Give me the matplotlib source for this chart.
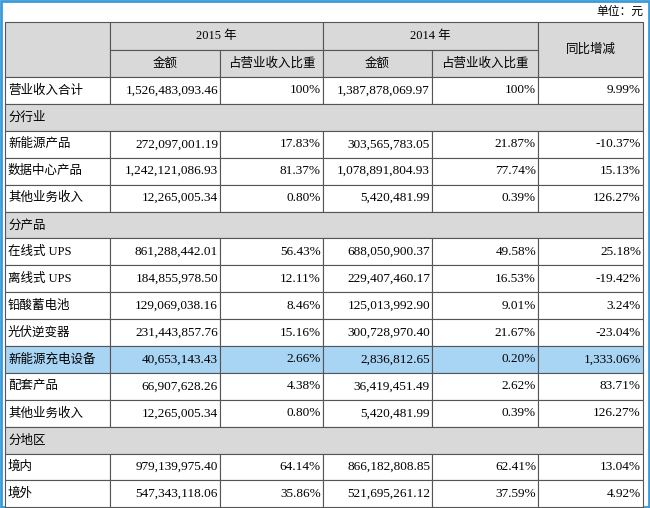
import matplotlib.pyplot as plt
from matplotlib.patches import Rectangle

# table content
row_names = ['营业收入合计', '分行业', '新能源产品', '数据中心产品', '其他业务收入',
             '分产品', '在线式 UPS', '离线式 UPS', '铅酸蓄电池', '光伏逆变器',
             '新能源充电设备', '配套产品', '其他业务收入', '分地区', '境内', '境外']
amount_2015 = ['1,526,483,093.46', '', '272,097,001.19', '1,242,121,086.93', '12,265,005.34',
               '', '861,288,442.01', '184,855,978.50', '129,069,038.16', '231,443,857.76',
               '40,653,143.43', '66,907,628.26', '12,265,005.34', '', '979,139,975.40', '547,343,118.06']
share_2015 = ['100%', '', '17.83%', '81.37%', '0.80%', '', '56.43%', '12.11%', '8.46%', '15.16%',
              '2.66%', '4.38%', '0.80%', '', '64.14%', '35.86%']
amount_2014 = ['1,387,878,069.97', '', '303,565,783.05', '1,078,891,804.93', '5,420,481.99',
               '', '688,050,900.37', '229,407,460.17', '125,013,992.90', '300,728,970.40',
               '2,836,812.65', '36,419,451.49', '5,420,481.99', '', '866,182,808.85', '521,695,261.12']
share_2014 = ['100%', '', '21.87%', '77.74%', '0.39%', '', '49.58%', '16.53%', '9.01%', '21.67%',
              '0.20%', '2.62%', '0.39%', '', '62.41%', '37.59%']
yoy = ['9.99%', '', '-10.37%', '15.13%', '126.27%', '', '25.18%', '-19.42%', '3.24%', '-23.04%',
       '1,333.06%', '83.71%', '126.27%', '', '13.04%', '4.92%']
highlight_row = 10

cjk = 'Noto Sans CJK SC'
num = 'Liberation Serif'
gray = '#d9d9d9'
blue = '#a9d5f5'

fig = plt.figure(figsize=(6.5, 5.08), dpi=100)
ax = fig.add_axes([0, 0, 1, 1])
ax.set_xlim(0, 650)
ax.set_ylim(508, 0)
ax.axis('off')

# outer blue frame
ax.add_patch(Rectangle((1, 1), 648, 506, fill=False, ec='#3a9ad9', lw=2))
ax.text(643, 11, '单位：元', ha='right', va='center', fontsize=8.5, family=cjk)

xs = [5, 110, 220, 323, 432, 538, 643]
top, hh, rh = 22, 27.5, 26.9

def cell(x0, x1, y0, y1, color):
    ax.add_patch(Rectangle((x0, y0), x1 - x0, y1 - y0, fc=color, ec='#555555', lw=0.8))

# header
cell(xs[0], xs[1], top, top + 2 * hh, gray)
cell(xs[1], xs[3], top, top + hh, gray)
cell(xs[3], xs[5], top, top + hh, gray)
cell(xs[5], xs[6], top, top + 2 * hh, gray)
for i in range(1, 5):
    cell(xs[i], xs[i + 1], top + hh, top + 2 * hh, gray)
ax.text((xs[1] + xs[3]) / 2, top + hh / 2, '2015 年', ha='center', va='center', fontsize=9, family=[num, cjk])
ax.text((xs[3] + xs[5]) / 2, top + hh / 2, '2014 年', ha='center', va='center', fontsize=9, family=[num, cjk])
ax.text((xs[5] + xs[6]) / 2, top + hh, '同比增减', ha='center', va='center', fontsize=9, family=cjk)
for i, lab in enumerate(['金额', '占营业收入比重', '金额', '占营业收入比重']):
    ax.text((xs[i + 1] + xs[i + 2]) / 2, top + 1.5 * hh, lab, ha='center', va='center', fontsize=9, family=cjk)

# body
y = top + 2 * hh
for i, name in enumerate(row_names):
    yc = y + rh / 2
    if amount_2015[i] == '':
        cell(xs[0], xs[6], y, y + rh, gray)
        ax.text(xs[0] + 3, yc, name, va='center', fontsize=9, family=cjk)
    else:
        color = blue if i == highlight_row else 'white'
        for j in range(0, 6):
            cell(xs[j], xs[j + 1], y, y + rh, color)
        ax.text(xs[0] + 3, yc, name, va='center', fontsize=9, family=[num, cjk])
        vals = [amount_2015[i], share_2015[i], amount_2014[i], share_2014[i], yoy[i]]
        for j, v in enumerate(vals):
            ax.text(xs[j + 2] - 2, yc, v, ha='right', va='center', fontsize=9.5, family=num)
    y += rh

fig.savefig('out.png', dpi=100)
